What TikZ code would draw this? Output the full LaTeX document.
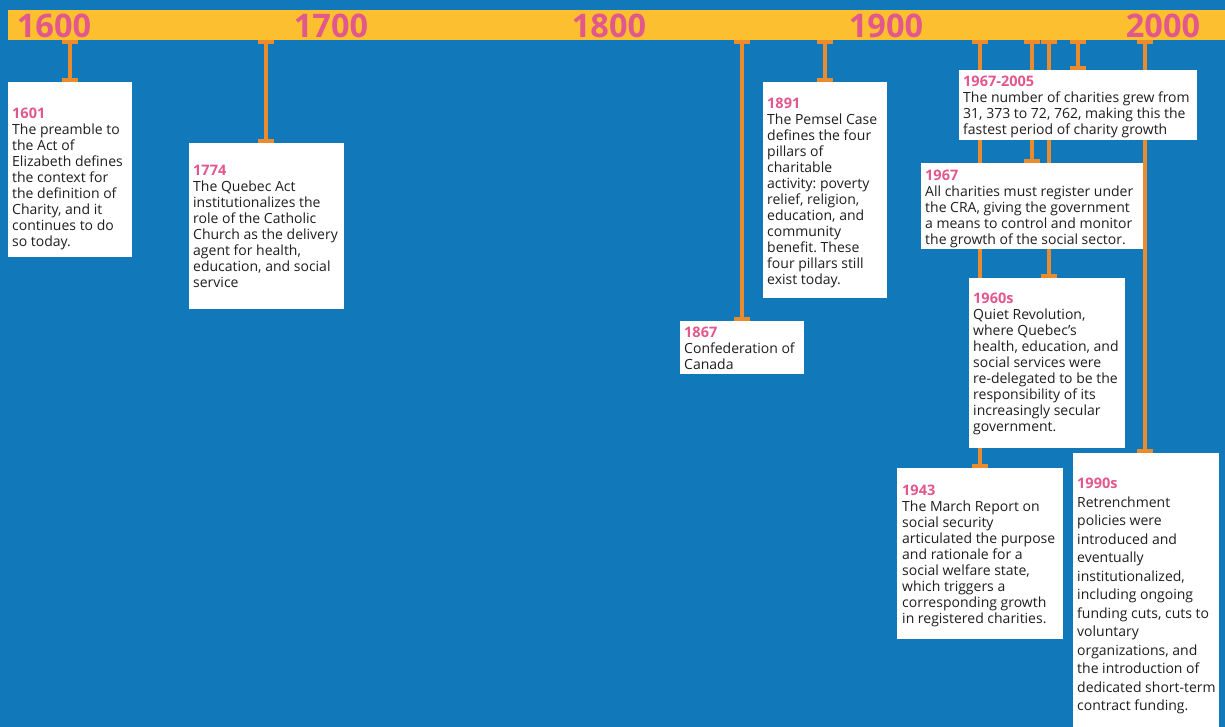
\documentclass[tikz,border=0pt]{standalone}
\usepackage{fontspec}
\setmainfont{Open Sans}
\usetikzlibrary{arrows.meta}
\definecolor{bgblue}{RGB}{17,121,186}
\definecolor{baryellow}{RGB}{252,191,48}
\definecolor{yearpink}{RGB}{226,88,140}
\definecolor{connorange}{RGB}{234,140,45}
\definecolor{textgray}{RGB}{30,30,30}
\pgfdeclarelayer{bglayer}
\pgfdeclarelayer{linelayer}
\pgfsetlayers{bglayer,linelayer,main}
\frenchspacing
\tikzset{
  Tcap/.tip={Rectangle[length=4pt,width=16pt,line width=0pt]},
  conn/.style={draw=connorange, line width=3.5pt, {Tcap}-{Tcap}},
  box/.style={fill=white, draw=none, anchor=north west, inner sep=0pt, outer sep=0pt},
  txt/.style={anchor=north west, inner sep=0pt, align=left, text=textgray, font=\fontsize{14}{16}\selectfont\frenchspacing},
  txtwide/.style={txt, font=\fontsize{14}{18.5}\selectfont\frenchspacing},
  century/.style={anchor=base, inner sep=0pt, text=yearpink, font=\fontsize{32.5}{32}\selectfont\bfseries},
}
\newcommand\yr[1]{\textcolor{yearpink}{\fontsize{14.5}{16}\selectfont\bfseries #1}}
\begin{document}
\begin{tikzpicture}[x=1pt,y=-1pt]
\begin{pgfonlayer}{bglayer}
\fill[bgblue] (0,0) rectangle (1225,727);
\end{pgfonlayer}
\useasboundingbox (0,0) rectangle (1225,727);
% timeline bar
\begin{pgfonlayer}{bglayer}
\node[fill=baryellow, anchor=north west, inner sep=0pt, minimum width=1217pt, minimum height=30pt] (bar) at (8,10) {};
\end{pgfonlayer}
% anchor points on the bar
\coordinate (t1) at (70,40);
\coordinate (t2) at (266,40);
\coordinate (t3) at (742,40);
\coordinate (t4) at (825,40);
\coordinate (t5) at (1078,40);
\coordinate (t6) at (1032,40);
\coordinate (t7) at (1049,40);
\coordinate (t8) at (980,40);
\coordinate (t9) at (1145,40);
% century labels
\node[century] (c1600) at (54,37.5) {1600};
\node[century] (c1700) at (331,37.5) {1700};
\node[century] (c1800) at (609,37.5) {1800};
\node[century] (c1900) at (886,37.5) {1900};
\node[century] (c2000) at (1163,37.5) {2000};
% boxes
\path
 (8,82)    node[box, minimum width=124pt, minimum height=175pt] (b1) {}
 (189,143) node[box, minimum width=155pt, minimum height=166pt] (b2) {}
 (680,321) node[box, minimum width=124pt, minimum height=53pt]  (b3) {}
 (763,82)  node[box, minimum width=124pt, minimum height=216pt] (b4) {}
 (959,70)  node[box, minimum width=238pt, minimum height=70pt]  (b5) {}
 (921,163) node[box, minimum width=222pt, minimum height=86pt]  (b6) {}
 (969,278) node[box, minimum width=156pt, minimum height=170pt] (b7) {}
 (897,468) node[box, minimum width=166pt, minimum height=171pt] (b8) {}
 (1073,453) node[box, minimum width=146pt, minimum height=274pt] (b9) {};
% connectors (behind the boxes)
\begin{pgfonlayer}{linelayer}
\draw[conn] (t1) -- (t1 |- b1.north);
\draw[conn] (t2) -- (t2 |- b2.north);
\draw[conn] (t3) -- (t3 |- b3.north);
\draw[conn] (t4) -- (t4 |- b4.north);
\draw[conn] (t5) -- (t5 |- b5.north);
\draw[conn] (t6) -- (t6 |- b6.north);
\draw[conn] (t7) -- (t7 |- b7.north);
\draw[conn] (t8) -- (t8 |- b8.north);
\draw[conn] (t9) -- (t9 |- b9.north);
\end{pgfonlayer}
% texts
\node[txt] (x1) at (12,108) {\yr{1601}\\The preamble to\\the Act of\\Elizabeth defines\\the context for\\the definition of\\Charity, and it\\continues to do\\so today.};
\node[txt] (x2) at (193,165) {\yr{1774}\\The Quebec Act\\institutionalizes the\\role of the Catholic\\Church as the delivery\\agent for health,\\education, and social\\service};
\node[txt] (x3) at (684,327) {\yr{1867}\\Confederation of\\Canada};
\node[txt] (x4) at (767,98) {\yr{1891}\\The Pemsel Case\\defines the four\\pillars of\\charitable\\activity: poverty\\relief, religion,\\education, and\\community\\benefit. These\\four pillars still\\exist today.};
\node[txt] (x5) at (963,76) {\yr{1967-2005}\\The number of charities grew from\\31, 373 to 72, 762, making this the\\fastest period of charity growth};
\node[txt] (x6) at (925,170) {\yr{1967}\\All charities must register under\\the CRA, giving the government\\a means to control and monitor\\the growth of the social sector.};
\node[txt] (x7) at (973,293) {\yr{1960s}\\Quiet Revolution,\\where Quebec's\\health, education, and\\social services were\\re-delegated to be the\\responsibility of its\\increasingly secular\\government.};
\node[txt] (x8) at (902,485) {\yr{1943}\\The March Report on\\social security\\articulated the purpose\\and rationale for a\\social welfare state,\\which triggers a\\corresponding growth\\in registered charities.};
\node[txtwide] (x9) at (1077,478) {\yr{1990s}\\Retrenchment\\policies were\\introduced and\\eventually\\institutionalized,\\including ongoing\\funding cuts, cuts to\\voluntary\\organizations, and\\the introduction of\\dedicated short-term\\contract funding.};
\end{tikzpicture}
\end{document}
